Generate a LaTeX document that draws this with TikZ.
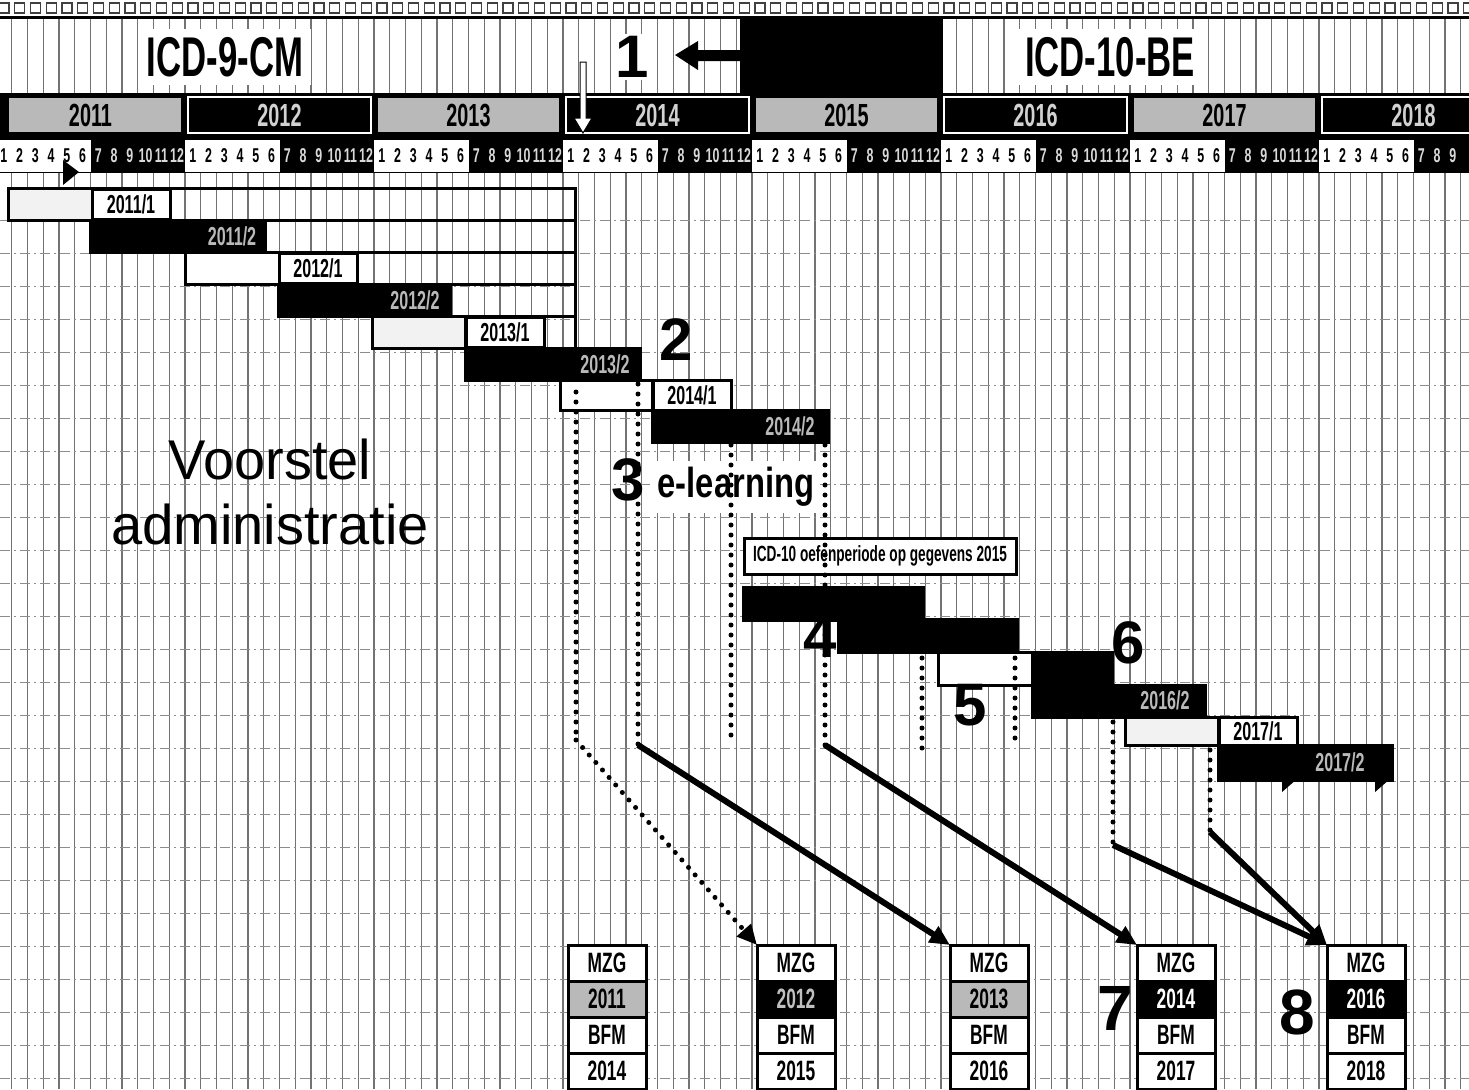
\documentclass[tikz,border=0pt]{standalone}
\usepackage{fontspec}
\setmainfont{Liberation Sans}
\newfontfamily\condfont[FakeStretch=0.62]{Liberation Sans}
\newfontfamily\semicondfont[FakeStretch=0.78]{Liberation Sans}
\usetikzlibrary{arrows.meta, positioning}
\tikzset{
gridline/.style={
	black!55,
	line width=0.6pt,
},
rowline/.style={
	black!45,
	line width=0.5pt,
	dash pattern=on 5pt off 2pt on 1pt off 2pt,
},
yeargray/.style={
	fill=gray!55,
	draw=black,
	line width=0.8pt,
},
yearblack/.style={
	fill=black,
	draw=white,
	line width=0.6pt,
},
yearlabel/.style={
	font=\condfont\bfseries\fontsize{16}{16}\selectfont,
	inner sep=1pt,
},
monthnum/.style={
	font=\condfont\bfseries\fontsize{10}{10}\selectfont,
	inner sep=0pt,
},
headtext/.style={
	font=\condfont\bfseries\fontsize{28}{28}\selectfont,
	fill=white,
	inner sep=4pt,
},
bignum/.style={
	font=\bfseries\fontsize{30}{30}\selectfont,
	inner sep=1pt,
},
barframe/.style={
	draw,
	line width=1.5pt,
},
leadbar/.style={
	barframe,
	fill=gray!10,
},
blackbar/.style={
	barframe,
	fill=black,
},
semcell/.style={
	draw,
	line width=1.5pt,
	fill=white,
	inner sep=0pt,
	minimum width=39pt,
	minimum height=15pt,
	font=\condfont\bfseries\fontsize{13}{13}\selectfont,
},
fainttext/.style={
	text=gray!55,
	inner sep=0pt,
	font=\condfont\bfseries\fontsize{13}{13}\selectfont,
},
dotline/.style={
	line width=2.5pt,
	dash pattern=on 0pt off 5pt,
	line cap=round,
},
dotarrow/.style={
	dotline,
	-{Triangle[length=10pt, width=9pt]},
},
linkarrow/.style={
	line width=3pt,
	-{Triangle[length=10pt, width=9pt]},
},
mzgcell/.style={
	draw,
	line width=1.5pt,
	fill=white,
	minimum width=39pt,
	minimum height=18pt,
	inner sep=0pt,
	outer sep=0pt,
	font=\condfont\bfseries\fontsize{14}{14}\selectfont,
},
}

\begin{document}
\begin{tikzpicture}[x=0.5pt, y=-0.5pt]
		\useasboundingbox (0,0) rectangle (1469,1089);
		\clip (0,0) rectangle (1469,1089);
		\fill[white] (0,0) rectangle (1469,1089);

		% Grid
		\foreach \k in {0,...,93}
			\draw[gridline] ({-4+15.75*\k},17) -- ({-4+15.75*\k},1089);
		\foreach \k in {1,...,27}
			\draw[rowline] (0,{187+33*\k}) -- (1469,{187+33*\k});

		% Top strip
		\fill[white] (0,0) rectangle (1469,17);
		\foreach \k in {0,...,93}
			\draw[black!75, line width=0.6pt] ({-1+15.75*\k},3) rectangle ({9+15.75*\k},13);
		\draw[line width=1.5pt] (0,17) -- (1469,17);

		% Title row
		\node[headtext] (icd9) at (225,57) {ICD-9-CM};
		\node[bignum, fill=white] (one) at (632,57) {1};
		\fill (675,55) -- (698,41) -- (698,50) -- (740,50) -- (740,61)
			-- (698,61) -- (698,70) -- cycle;
		\fill (740,17) rectangle (943,93);
		\node[headtext] (icd10) at (1110,57) {ICD-10-BE};

		% Years and months
		\fill (0,93) rectangle (1469,173);
		\foreach \yr [count=\i from 0] in {2011,...,2018} {
			\pgfmathsetmacro\ys{-4+189*\i}
			\ifodd\yr
				\draw[yeargray] ({max(\ys+3,8)},97) rectangle (\ys+186,133);
				\node[yearlabel] (y\yr) at (\ys+94.5,115) {\yr};
			\else
				\draw[yearblack] (\ys+3,97) rectangle (\ys+186,133);
				\node[yearlabel, text=gray!35] (y\yr) at (\ys+94.5,115) {\yr};
			\fi
			\fill[white] (\ys,140) rectangle (\ys+94.5,172);
			\foreach \m in {1,...,6}
				\node[monthnum] (m\yr-\m) at ({\ys+15.75*(\m-0.5)},156) {\m};
			\foreach \m in {7,...,12} {
				\pgfmathtruncatemacro\inside{(\ys+15.75*(\m-0.5))<1455}
				\ifnum\inside=1
					\node[monthnum, text=gray!30] (m\yr-\m) at ({\ys+15.75*(\m-0.5)},156) {\m};
				\fi
			}
		}
		\draw[fill=white, line width=0.5pt] (580,62) -- (586,62) -- (586,118) -- (592,118)
			-- (583,133) -- (574,118) -- (580,118) -- cycle;
		\fill (63,160) -- (63,185) -- (79,172) -- cycle;

		% Semesters 2011 - 2014
		\draw[leadbar] (8,188) rectangle (92,220);
		\node[semcell] (s2011a) at (131,204) {2011/1};
		\draw[barframe] (8,188) rectangle (575,220);

		\draw[blackbar] (90,220) rectangle (265,252);
		\node[fainttext] (s2011b) at (232,236) {2011/2};
		\draw[barframe] (265,220) rectangle (575,252);

		\draw[barframe, fill=white] (185,252) rectangle (280,284);
		\node[semcell] (s2012a) at (318,268) {2012/1};
		\draw[barframe] (185,252) rectangle (575,284);

		\draw[blackbar] (278,284) rectangle (450,316);
		\node[fainttext] (s2012b) at (415,300) {2012/2};
		\draw[barframe] (450,284) rectangle (575,316);

		\draw[leadbar] (372,316) rectangle (465,348);
		\node[semcell] (s2013a) at (505,332) {2013/1};
		\draw[barframe] (372,316) rectangle (575,348);

		\draw[blackbar] (465,348) rectangle (640,380);
		\node[fainttext] (s2013b) at (605,364) {2013/2};

		\draw[barframe, fill=white] (560,380) rectangle (652,410);
		\node[semcell] (s2014a) at (692,395) {2014/1};

		\draw[blackbar] (652,410) rectangle (828,442);
		\node[fainttext] (s2014b) at (790,426) {2014/2};

		% Labels
		\node[bignum] (two) at (676,340) {2};
		\node[font=\fontsize{28}{32.5}\selectfont, align=center] (voorstel) at (270,492)
			{Voorstel\\administratie};
		\node[bignum] (three) at (628,480) {3};
		\node[fill=white, inner sep=3pt, font=\semicondfont\bfseries\fontsize{21}{21}\selectfont]
			(elearn) at (736,487) {e-learning};

		% ICD-10 period
		\node[draw, line width=1.5pt, fill=white, minimum width=136pt, minimum height=18pt,
			inner sep=0pt, font=\condfont\bfseries\fontsize{11}{11}\selectfont]
			(oefen) at (880,556) {ICD-10 oefenperiode op gegevens 2015};
		\draw[blackbar] (743,587) rectangle (923,620);
		\draw[blackbar] (838,619) rectangle (1017,652);
		\node[bignum] (four) at (820,637) {4};
		\draw[barframe, fill=white] (938,652) rectangle (1032,685);
		\draw[blackbar] (1032,652) rectangle (1112,685);
		\draw[blackbar] (1032,685) rectangle (1205,717);
		\node[fainttext] (s2016b) at (1165,700) {2016/2};
		\node[bignum] (five) at (970,705) {5};
		\node[bignum] (six) at (1128,643) {6};
		\draw[leadbar] (1125,717) rectangle (1218,745);
		\node[semcell, minimum height=14pt] (s2017a) at (1258,731) {2017/1};
		\draw[blackbar] (1218,745) rectangle (1392,780);
		\node[fainttext] (s2017b) at (1340,762) {2017/2};
		\fill (1282,779) -- (1297,779) -- (1282,792) -- cycle;
		\fill (1375,779) -- (1390,779) -- (1375,792) -- cycle;

		% MZG / BFM boxes
		\node[mzgcell] (mzgA) at (607,963) {MZG};
		\node[mzgcell, below=0pt of mzgA, fill=gray!55] (regA) {2011};
		\node[mzgcell, below=0pt of regA] (bfmA) {BFM};
		\node[mzgcell, below=0pt of bfmA] (payA) {2014};

		\node[mzgcell] (mzgB) at (796,963) {MZG};
		\node[mzgcell, below=0pt of mzgB, fill=black, text=gray!50] (regB) {2012};
		\node[mzgcell, below=0pt of regB] (bfmB) {BFM};
		\node[mzgcell, below=0pt of bfmB] (payB) {2015};

		\node[mzgcell] (mzgC) at (989,963) {MZG};
		\node[mzgcell, below=0pt of mzgC, fill=gray!55] (regC) {2013};
		\node[mzgcell, below=0pt of regC] (bfmC) {BFM};
		\node[mzgcell, below=0pt of bfmC] (payC) {2016};

		\node[mzgcell] (mzgD) at (1176,963) {MZG};
		\node[mzgcell, below=0pt of mzgD, fill=black, text=white] (regD) {2014};
		\node[mzgcell, below=0pt of regD] (bfmD) {BFM};
		\node[mzgcell, below=0pt of bfmD] (payD) {2017};

		\node[mzgcell] (mzgE) at (1366,963) {MZG};
		\node[mzgcell, below=0pt of mzgE, fill=black, text=white] (regE) {2016};
		\node[mzgcell, below=0pt of regE] (bfmE) {BFM};
		\node[mzgcell, below=0pt of bfmE] (payE) {2018};

		\node[bignum, font=\bfseries\fontsize{32}{32}\selectfont] (seven) at (1115,1008) {7};
		\node[bignum, font=\bfseries\fontsize{32}{32}\selectfont] (eight) at (1297,1012) {8};

		% Connections
		\coordinate (d1top) at (576,392);
		\coordinate (d1bend) at (576,740);
		\coordinate (d2top) at (638,384);
		\coordinate (d2bend) at (638,745);
		\coordinate (d3top) at (731,445);
		\coordinate (d3end) at (731,742);
		\coordinate (d4top) at (825,445);
		\coordinate (d4bend) at (825,745);
		\coordinate (d5top) at (922,658);
		\coordinate (d5end) at (922,748);
		\coordinate (d6top) at (1015,658);
		\coordinate (d6end) at (1015,745);
		\coordinate (d7top) at (1113,722);
		\coordinate (d7bend) at (1113,845);
		\coordinate (d8top) at (1210,750);
		\coordinate (d8bend) at (1210,832);

		\draw[dotline] (d1top) -- (d1bend);
		\draw[dotarrow] (d1bend) -- (mzgB.north west);
		\draw[dotline] (d2top) -- (d2bend);
		\draw[linkarrow] (d2bend) -- (mzgC.north west);
		\draw[dotline] (d3top) -- (d3end);
		\draw[dotline] (d4top) -- (d4bend);
		\draw[linkarrow] (d4bend) -- (mzgD.north west);
		\draw[dotline] (d5top) -- (d5end);
		\draw[dotline] (d6top) -- (d6end);
		\draw[dotline] (d7top) -- (d7bend);
		\draw[linkarrow] (d7bend) -- (mzgE.north west);
		\draw[dotline] (d8top) -- (d8bend);
		\draw[linkarrow] (d8bend) -- (mzgE.north west);
\end{tikzpicture}
\end{document}
